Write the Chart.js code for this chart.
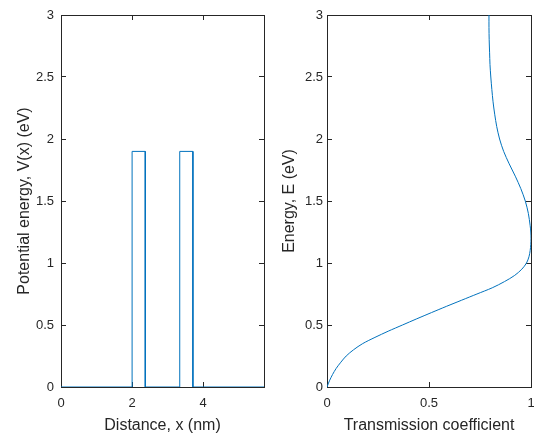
<!DOCTYPE html>
<html><head><meta charset="utf-8">
<script src="https://cdn.jsdelivr.net/npm/chart.js@4/dist/chart.umd.min.js"></script>
<style>
html,body{margin:0;padding:0;background:#fff;width:534px;height:434px;overflow:hidden}
canvas{position:absolute;top:0}
#c1{left:0}
#c2{left:267px}
</style></head><body>
<canvas id="c1" width="267" height="434"></canvas>
<canvas id="c2" width="267" height="434"></canvas>
<script>
// Left panel: potential profile
const distanceNm  = [0, 2, 2, 2.37, 2.37, 3.34, 3.34, 3.71, 3.71, 5.71];
const potentialEv = [0, 0, 1.9, 1.9, 0, 0, 1.9, 1.9, 0, 0];
// Right panel: transmission coefficient vs energy
const energyEv     = [0, 0.05, 0.1, 0.15, 0.2, 0.25, 0.3, 0.35, 0.4, 0.45, 0.5, 0.55, 0.6, 0.65, 0.7, 0.75, 0.8, 0.85, 0.9, 0.95, 1.0, 1.05, 1.1, 1.15, 1.2, 1.25, 1.3, 1.4, 1.5, 1.6, 1.7, 1.8, 1.9, 2.0, 2.1, 2.2, 2.3, 2.4, 2.5, 2.6, 2.7, 2.8, 2.9, 3.0];
const transmission = [0, 0.012, 0.027, 0.045, 0.068, 0.094, 0.13, 0.175, 0.235, 0.30, 0.37, 0.44, 0.512, 0.585, 0.66, 0.735, 0.81, 0.87, 0.92, 0.955, 0.978, 0.99, 0.996, 0.999, 1.0, 0.999, 0.996, 0.987, 0.972, 0.95, 0.923, 0.893, 0.866, 0.846, 0.832, 0.822, 0.814, 0.808, 0.803, 0.799, 0.797, 0.795, 0.794, 0.794];
// Axis ticks
const xTicksLeft  = [0, 2, 4];
const xTicksRight = [0, 0.5, 1];
const yTicks      = [0, 0.5, 1, 1.5, 2, 2.5, 3];
const xRangeLeft  = [0, 5.71];
const xRangeRight = [0, 1];
const yRange      = [0, 3];

const AX = '#262626';
const LINE = '#0072BD';
const FAM = "'Liberation Sans', Arial, Helvetica, sans-serif";
const tickFont = {family: FAM, size: 13};
const titleFont = {family: FAM, size: 16, lineHeight: 1};
const fmt = v => String(v);

function base(range, ticks) {
  return {
    type: 'linear', min: range[0], max: range[1],
    afterBuildTicks: s => { s.ticks = ticks.map(v => ({value: v})); },
    grid: {drawOnChartArea: false, drawTicks: true, tickLength: -5, color: AX, lineWidth: 1},
    border: {display: true, color: AX, width: 1}
  };
}
function noPad(s) { s.paddingLeft = 0; s.paddingRight = 0; s.paddingTop = 0; s.paddingBottom = 0; }

function makeChart(id, pts, cfg) {
  return new Chart(document.getElementById(id), {
    type: 'scatter',
    data: {datasets: [{data: pts, showLine: true, borderColor: LINE, backgroundColor: LINE,
      borderWidth: 1, pointRadius: 0, tension: cfg.tension}]},
    options: {
      responsive: false, animation: false, devicePixelRatio: 1,
      layout: {padding: {left: 0, top: 15, right: 3, bottom: 0}},
      plugins: {legend: {display: false}, tooltip: {enabled: false}},
      scales: {
        x: Object.assign(base(cfg.xRange, cfg.xTicks), {
          position: 'bottom',
          ticks: {padding: 14, color: AX, font: tickFont, maxRotation: 0, autoSkip: false, callback: fmt},
          title: {display: true, text: cfg.xTitle, color: AX, font: titleFont, padding: {top: 0, bottom: 0}},
          afterFit: s => { s.height = 47; noPad(s); }
        }),
        x2: Object.assign(base(cfg.xRange, cfg.xTicks), {
          position: 'top', ticks: {display: false},
          afterFit: s => { s.height = 0; noPad(s); }
        }),
        y: Object.assign(base(yRange, yTicks), {
          position: 'left',
          ticks: {padding: cfg.yTickPad, color: AX, font: tickFont, autoSkip: false, callback: fmt},
          title: {display: true, text: cfg.yTitle, color: AX, font: titleFont, padding: {top: cfg.yTitlePad, bottom: 0}},
          afterFit: s => { s.width = cfg.yWidth; noPad(s); }
        }),
        y2: Object.assign(base(yRange, yTicks), {
          position: 'right', ticks: {display: false},
          afterFit: s => { s.width = 0; noPad(s); }
        })
      }
    }
  });
}

makeChart('c1', distanceNm.map((x, i) => ({x, y: potentialEv[i]})), {
  xRange: xRangeLeft, xTicks: xTicksLeft, tension: 0,
  xTitle: 'Distance, x (nm)', yTitle: 'Potential energy, V(x) (eV)',
  yTickPad: 12, yTitlePad: 17, yWidth: 61
});
makeChart('c2', transmission.map((x, i) => ({x, y: energyEv[i]})), {
  xRange: xRangeRight, xTicks: xTicksRight, tension: 0.3,
  xTitle: 'Transmission coefficient', yTitle: 'Energy, E (eV)',
  yTickPad: 9, yTitlePad: 15, yWidth: 60
});
</script>
</body></html>
